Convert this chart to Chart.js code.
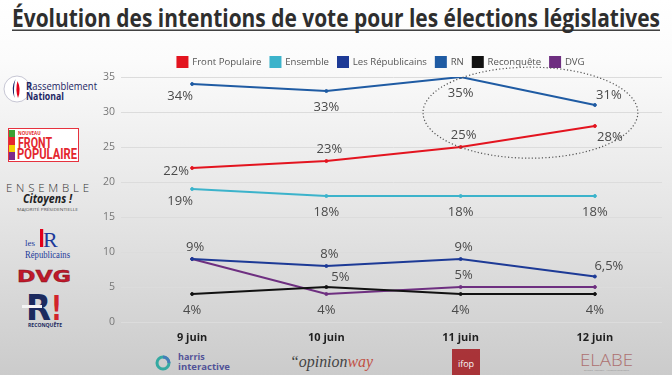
<!DOCTYPE html>
<html lang="fr">
<head>
<meta charset="utf-8">
<script src="https://cdn.jsdelivr.net/npm/chart.js@4.4.1/dist/chart.umd.min.js"></script>
<style>
  html, body { margin: 0; padding: 0; width: 672px; height: 375px; overflow: hidden; }
  body {
    position: relative;
    background: linear-gradient(#ffffff 0%, #fbfbfb 16%, #e6e6e6 55%, #cbcbcb 100%);
    font-family: "Open Sans", sans-serif;
  }
  #logos { position: absolute; left: 0; top: 0; }
  #chart { position: absolute; left: 100px; top: 40px; }
</style>
</head>
<body>
<svg id="logos" width="672" height="375" font-family="Open Sans">
  <!-- titre -->
  <text x="12" y="27" font-size="25" font-weight="700" fill="#2e2e2e" textLength="648" lengthAdjust="spacingAndGlyphs">Évolution des intentions de vote pour les élections législatives</text>
  <rect x="12" y="29.5" width="648" height="1.4" fill="#2e2e2e"/>

  <!-- Rassemblement National -->
  <circle cx="17" cy="89" r="13" fill="#fff" stroke="#b9b9c9" stroke-width="0.8"/>
  <path d="M15.5 79 q-5 9 -1 19 q-1.5 -10 1 -19z" fill="#1c2a6e"/>
  <path d="M17.5 81 q4 8 0.5 17 q-3 -8 -0.5 -17z" fill="#e2001a"/>
  <text x="26" y="90" font-size="10.5" fill="#1c2663" textLength="71" lengthAdjust="spacingAndGlyphs"><tspan font-weight="700">R</tspan>assemblement</text>
  <text x="26" y="100" font-size="10" font-weight="700" fill="#1c2663" textLength="38" lengthAdjust="spacingAndGlyphs">National</text>

  <!-- Nouveau Front Populaire -->
  <rect x="8.5" y="128.5" width="70" height="33" fill="#fff" stroke="#e6323e" stroke-width="1"/>
  <rect x="9" y="130" width="6" height="7" fill="#3aa335"/>
  <rect x="9" y="137" width="6" height="8" fill="#e4262e"/>
  <rect x="9" y="145" width="6" height="7" fill="#f4cf00"/>
  <rect x="9" y="152" width="6" height="8" fill="#7b2a8b"/>
  <text x="18" y="134.5" font-size="4.5" font-weight="700" fill="#e4262e">NOUVEAU</text>
  <text x="18" y="148" font-family="Roboto" font-size="14" font-weight="700" fill="#e4262e" textLength="34" lengthAdjust="spacingAndGlyphs">FRONT</text>
  <text x="17" y="159" font-family="Roboto" font-size="14" font-weight="700" fill="#e4262e" textLength="60" lengthAdjust="spacingAndGlyphs">POPULAIRE</text>

  <!-- Ensemble -->
  <text x="6" y="192" font-size="11.5" font-weight="300" fill="#333" textLength="83" lengthAdjust="spacing">ENSEMBLE</text>
  <text x="23" y="203" font-size="12" font-weight="700" font-style="italic" fill="#222" textLength="49" lengthAdjust="spacingAndGlyphs">Citoyens !</text>
  <text x="17" y="211" font-size="3.6" fill="#555" textLength="61" lengthAdjust="spacingAndGlyphs">MAJORITÉ PRÉSIDENTIELLE</text>

  <!-- Les Républicains -->
  <rect x="40" y="229" width="3.2" height="18" fill="#e2001a"/>
  <text x="43" y="247" font-family="Liberation Serif" font-size="22" fill="#1c3a9a">R</text>
  <text x="25" y="246" font-family="Liberation Serif" font-size="9" fill="#1c3a9a">les</text>
  <text x="25" y="258" font-family="Liberation Serif" font-size="10" fill="#1c3a9a" textLength="45" lengthAdjust="spacingAndGlyphs">Républicains</text>

  <!-- DVG -->
  <text x="17" y="282" font-family="DejaVu Sans" font-size="16" font-weight="700" fill="#c0182a" stroke="#7a0f18" stroke-width="0.4" textLength="54" lengthAdjust="spacingAndGlyphs">DVG</text>

  <!-- Reconquête -->
  <text x="26" y="320" font-family="DejaVu Sans" font-size="36" font-weight="700" fill="#1b2a5e" textLength="25" lengthAdjust="spacingAndGlyphs">R</text>
  <rect x="22" y="305" width="20" height="3" fill="#f4f4f4"/>
  <text x="51" y="320" font-family="DejaVu Sans" font-size="34" font-weight="700" fill="#d2232a" textLength="11" lengthAdjust="spacingAndGlyphs">!</text>
  <text x="28" y="327" font-size="4.5" font-weight="700" fill="#1b2a5e" textLength="34" lengthAdjust="spacingAndGlyphs">RECONQUÊTE</text>

  <!-- instituts -->
  <g opacity="0.85">
    <circle cx="163" cy="363" r="6" fill="none" stroke="#1aa39a" stroke-width="3"/>
    <path d="M163 357 a6 6 0 0 1 6 6" fill="none" stroke="#2d6fb7" stroke-width="3"/>
    <text x="178" y="360" font-size="9" font-weight="700" fill="#3c3d8f">harris</text>
    <text x="178" y="370" font-size="9" font-weight="700" fill="#3c3d8f" textLength="52" lengthAdjust="spacingAndGlyphs">interactive</text>

    <text x="290" y="367" font-family="Liberation Serif" font-size="16" font-style="italic" fill="#2a2a2a" textLength="83" lengthAdjust="spacingAndGlyphs">“opinion<tspan fill="#c0392b">way</tspan></text>

    <rect x="452" y="349" width="28" height="26" fill="#a3191f"/>
    <text x="466" y="367" font-size="9" fill="#fff" text-anchor="middle">ifop</text>

    <text x="580" y="366" font-size="16" font-weight="300" fill="#a86060" textLength="53" lengthAdjust="spacingAndGlyphs">ELABE</text>
    <text x="584" y="371" font-size="2.5" fill="#888" textLength="45" lengthAdjust="spacingAndGlyphs">ÉTUDES · CONSEIL · ACCOMPAGNEMENT</text>
  </g>
</svg>
<canvas id="chart" width="572" height="310"></canvas>
<script>
const categories = ["9 juin", "10 juin", "11 juin", "12 juin"];
const frontPopulaire = [22, 23, 25, 28];
const ensemble = [19, 18, 18, 18];
const republicains = [9, 8, 9, 6.5];
const rn = [34, 33, 35, 31];
const reconquete = [4, 5, 4, 4];
const dvg = [9, 4, 5, 5];

// where each value label sits around its point
const labelOffsets = {
  a: [3, -12], b: [0, 16], bl: [-12, 12], l: [-16, 3], ar: [14, -10], br: [15, 11]
};

function series(label, data, color, labelPos) {
  return {
    label: label,
    data: data,
    borderColor: color,
    backgroundColor: color,
    pointBackgroundColor: color,
    borderWidth: 2,
    pointRadius: 1.5,
    pointBorderWidth: 1,
    tension: 0,
    labelPos: labelPos,
  };
}

const fmt = (v) => String(v).replace(".", ",") + "%";

const valueLabels = {
  id: "valueLabels",
  afterDatasetsDraw(chart) {
    const ctx = chart.ctx;
    ctx.save();
    ctx.font = '13px "Open Sans"';
    ctx.fillStyle = "#4a4a4a";
    ctx.textAlign = "center";
    ctx.textBaseline = "middle";
    chart.data.datasets.forEach((ds, i) => {
      chart.getDatasetMeta(i).data.forEach((pt, j) => {
        const pos = ds.labelPos[j];
        if (!pos) return;
        const [dx, dy] = labelOffsets[pos];
        ctx.fillText(fmt(ds.data[j]), pt.x + dx, pt.y + dy);
      });
    });
    ctx.restore();
  },
};

// dotted ring around the last two RN / Front Populaire points
const ring = {
  id: "ring",
  afterDatasetsDraw(chart) {
    const x = chart.scales.x, y = chart.scales.y;
    const x2 = x.getPixelForValue(2), x3 = x.getPixelForValue(3);
    const cx = x2 + (x3 - x2) * 0.52;
    const cy = y.getPixelForValue(29.9);
    const rx = (x3 - x2) * 0.8;
    const ry = y.getPixelForValue(23.4) - cy;
    const ctx = chart.ctx;
    ctx.save();
    ctx.strokeStyle = "#555";
    ctx.lineWidth = 1.2;
    ctx.setLineDash([1.2, 2.2]);
    ctx.beginPath();
    ctx.ellipse(cx, cy, rx, ry, 0, 0, Math.PI * 2);
    ctx.stroke();
    ctx.restore();
  },
};

// keep the legend compact and nudge it into place
const legendTweak = {
  id: "legendTweak",
  beforeInit(chart) {
    const fit = chart.legend.fit;
    chart.legend.fit = function () {
      fit.call(this);
      this.height = 37;
    };
  },
  afterLayout(chart) {
    const lg = chart.legend;
    lg.top += 8; lg.bottom += 8;
  },
};

new Chart(document.getElementById("chart"), {
  type: "line",
  data: {
    labels: categories,
    datasets: [
      series("Front Populaire", frontPopulaire, "#e3141f", ["l", "a", "a", "br"]),
      series("Ensemble", ensemble, "#3cb3cb", ["bl", "b", "b", "b"]),
      series("Les Républicains", republicains, "#1d3a96", ["a", "a", "a", "ar"]),
      series("RN", rn, "#1f5ba3", ["bl", "b", "b", "ar"]),
      series("Reconquête", reconquete, "#111111", ["b", "ar", "b", "b"]),
      series("DVG", dvg, "#6e2f80", ["", "b", "a", ""]),
    ],
  },
  options: {
    responsive: false,
    animation: false,
    devicePixelRatio: 1,
    layout: { padding: { top: 0, left: 0, right: 10, bottom: 0 } },
    plugins: {
      legend: {
        labels: {
          boxWidth: 10,
          boxHeight: 10,
          padding: 9,
          color: "#555",
          font: { family: "Open Sans", size: 9.6 },
        },
      },
      tooltip: { enabled: false },
    },
    scales: {
      x: {
        offset: true,
        grid: { display: false, drawTicks: false },
        border: { display: false },
        ticks: { color: "#1f1f1f", padding: 9, font: { family: "Open Sans", size: 11, weight: "bold" } },
        afterFit(scale) { scale.height = 28; },
      },
      y: {
        min: 0,
        max: 35,
        ticks: { stepSize: 5, color: "#777", padding: 6, font: { family: "Open Sans", size: 10.5 } },
        grid: { color: "#dcdcdc", tickLength: 4 },
        border: { display: false },
        afterFit(scale) { scale.width = 25; },
      },
    },
  },
  plugins: [legendTweak, ring, valueLabels],
});
</script>
</body>
</html>
